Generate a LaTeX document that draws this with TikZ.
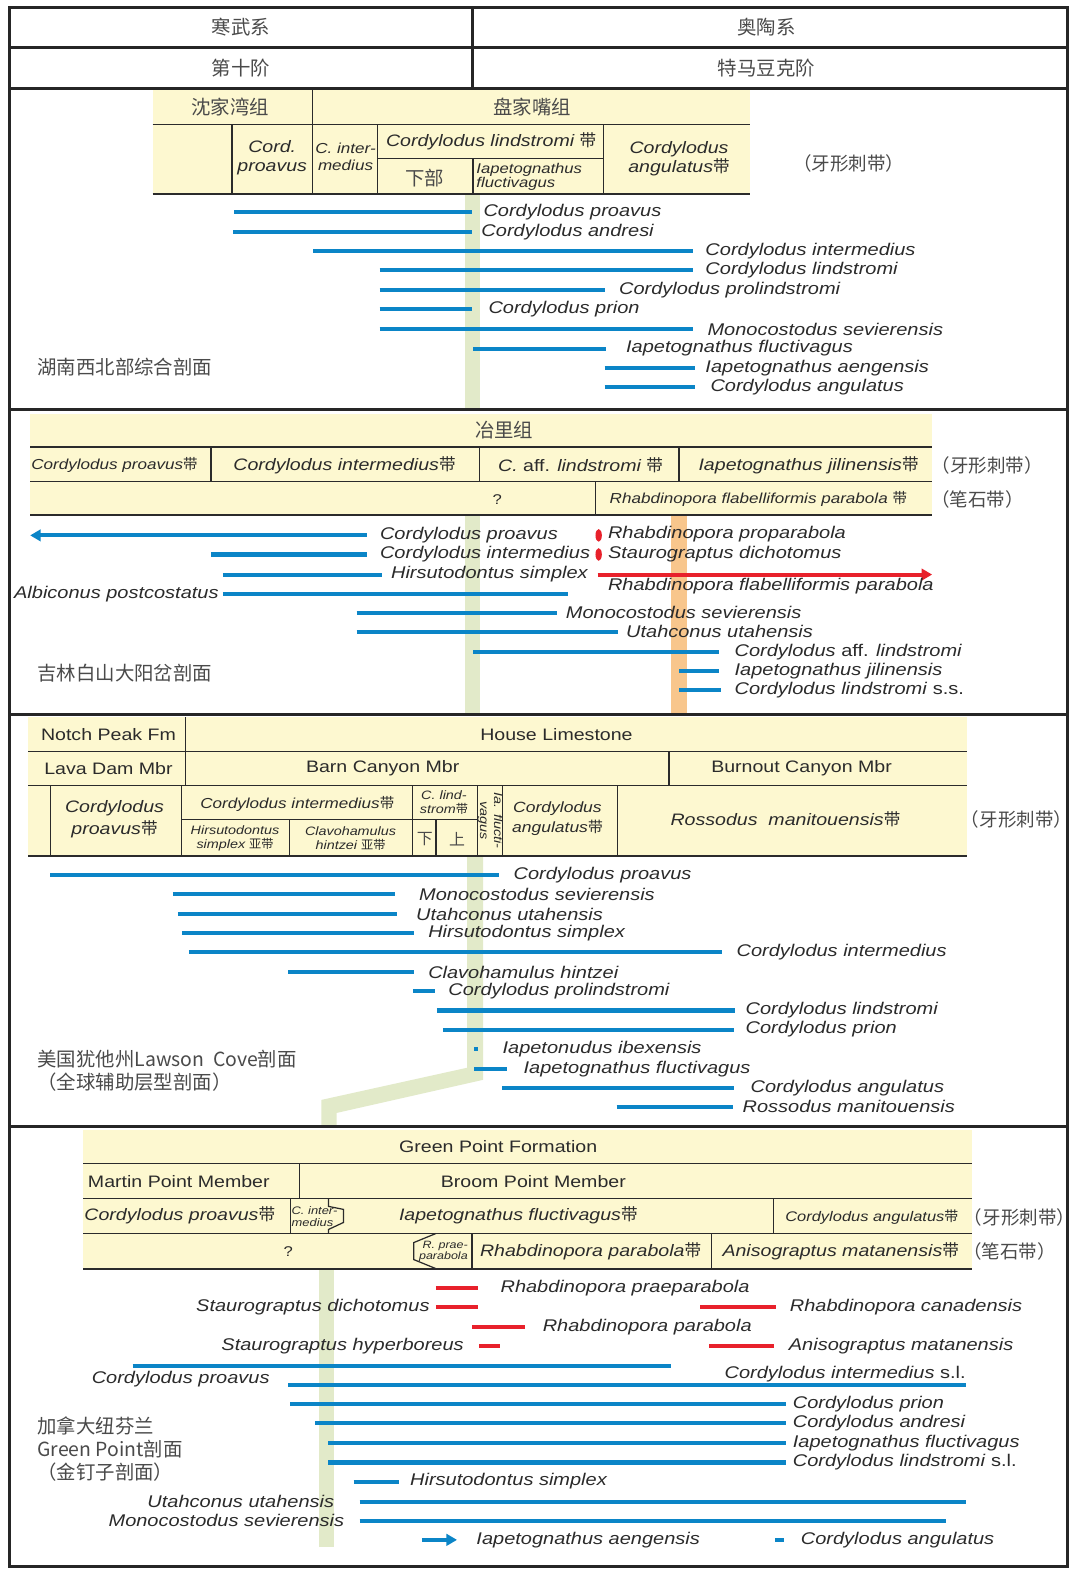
\documentclass[tikz,border=0pt]{standalone}
\usepackage{fontspec}
\setmainfont{Liberation Sans}[FakeStretch=1.18]
\newfontfamily\cjk{Noto Sans CJK SC}
\usepackage{xcolor}
\usetikzlibrary{arrows.meta}

\definecolor{paleyellow}{HTML}{FDF8D0}
\definecolor{conoblue}{HTML}{0B85C7}
\definecolor{graptred}{HTML}{E8212B}
\definecolor{palegreen}{HTML}{E2EAC9}
\definecolor{paleorange}{HTML}{F8C68C}
\definecolor{ink}{HTML}{2B2B2B}
\definecolor{zhink}{HTML}{4A4A4A}
\newcommand{\dai}{{\cjk\upshape 带}}
\newcommand{\yadai}{{\cjk\upshape 亚带}}

\begin{document}
\begin{tikzpicture}[x=0.02cm,y=-0.02cm,
  every node/.style={inner sep=0pt,text=ink},
  frame/.style={line width=1.7pt,draw=black!85},
  rule/.style={line width=0.7pt,draw=ink},
  base/.style={line width=1.3pt,draw=ink},
  conbar/.style={line width=2.3pt,draw=conoblue},
  grabar/.style={line width=2.3pt,draw=graptred},
  tip/.style={-{Triangle[length=6pt,width=6.5pt]}},
  taxon/.style={anchor=west,font=\fontsize{9.6}{11}\selectfont\itshape},
  taxonl/.style={taxon,anchor=east},
  unit/.style={font=\fontsize{9.4}{11}\selectfont},
  zone/.style={font=\fontsize{9.4}{11.3}\selectfont\itshape,align=center},
  zonesm/.style={font=\fontsize{8.2}{10}\selectfont\itshape,align=center},
  zonexs/.style={font=\fontsize{6.9}{7.9}\selectfont\itshape,align=center},
  zh/.style={text=zhink,font=\fontsize{11}{13}\selectfont\cjk},
  zhs/.style={text=zhink,font=\fontsize{10.5}{12}\selectfont\cjk},
  sect/.style={zh,anchor=west}]
  \useasboundingbox (0,0) rectangle (1075,1568);
  \fill[white] (0,0) rectangle (1075,1568);

  % chronostratigraphy head
  \node[zh] (camb) at (240,27) {寒武系};
  \node[zh] (ordo) at (763,27) {奥陶系};
  \node[zh] (stage10) at (240,68) {第十阶};
  \node[zh] (tremad) at (763,68) {特马豆克阶};

  % ---------- Hunan ----------
  \fill[palegreen] (463,193) rectangle (478,408);
  \fill[paleyellow] (152,90) rectangle (747,193);
  \draw[rule] (152,124) -- (747,124) (311,90) -- (311,193);
  \draw[rule] (231,124) -- (231,193) (376,124) -- (376,193) (601,124) -- (601,193);
  \draw[rule] (376,158) -- (601,158) (471,158) -- (471,193);
  \draw[base] (152,193) -- (747,193);
  \node[zh] (shen) at (229,107) {沈家湾组};
  \node[zh] (pan) at (530,107) {盘家嘴组};
  \node[zone] (hcp) at (271,157) {Cord.\\proavus};
  \node[zonesm] (hci) at (344,156) {C. inter-\\medius};
  \node[zone] (hcl) at (489,141) {Cordylodus lindstromi \dai};
  \node[zh] (hlow) at (423,177) {下部};
  \node[font=\fontsize{8}{8}\selectfont\itshape,align=left,anchor=west] (hif) at (474,176) {Iapetognathus\\ fluctivagus};
  \node[zone] (hca) at (676,158) {Cordylodus\\angulatus\dai};
  \node[zhs] (hzone) at (845,163) {（牙形刺带）};
  \foreach \y/\a/\b/\lx/\taxa in {
    211/233/470/481/Cordylodus proavus,
    231/232/470/479/Cordylodus andresi,
    250/312/690/702/Cordylodus intermedius,
    269/378/690/702/Cordylodus lindstromi,
    289/378/602/616/Cordylodus prolindstromi,
    308/378/470/486/Cordylodus prion,
    328/378/690/704/Monocostodus sevierensis,
    347/471/603/623/Iapetognathus fluctivagus,
    366/602/692/702/Iapetognathus aengensis,
    385/602/692/707/Cordylodus angulatus}
  {\draw[conbar] (\a,\y) -- (\b,\y);
   \node[taxon] (h\y) at (\lx,\y) {\taxa};}
  \node[sect] (hunan) at (37,365) {湖南西北部综合剖面};

  % ---------- Jilin ----------
  \fill[palegreen] (463,513) rectangle (478,711);
  \fill[paleorange] (668,513) rectangle (684,711);
  \fill[paleyellow] (30,412) rectangle (928,513);
  \draw[rule] (30,445) -- (928,445) (30,479) -- (928,479);
  \draw[rule] (210,445) -- (210,479) (477,445) -- (477,479) (676,445) -- (676,479);
  \draw[rule] (593,479) -- (593,513);
  \draw[base] (30,513) -- (928,513);
  \node[zh] (yeli) at (502,428) {冶里组};
  \node[zonesm] (jcp) at (114,463) {Cordylodus proavus\dai};
  \node[zone] (jci) at (343,463) {Cordylodus intermedius\dai};
  \node[zone] (jcl) at (578,463) {C. \textup{aff.} lindstromi \dai};
  \node[zone] (jij) at (805,463) {Iapetognathus jilinensis\dai};
  \node[zhs] (jzone) at (983,463) {（牙形刺带）};
  \node[font=\fontsize{8}{9}\selectfont] (jq) at (495,497) {?};
  \node[zonesm] (jrf) at (755,497) {Rhabdinopora flabelliformis parabola \dai};
  \node[zhs] (jgz) at (973,497) {（笔石带）};
  \draw[conbar,tip] (365,533) -- (30,533);
  \node[taxon] (j533) at (378,533) {Cordylodus proavus};
  \foreach \y/\a/\b/\lx/\taxa in {
    552/210/365/378/Cordylodus intermedius,
    572/222/380/389/Hirsutodontus simplex,
    610/355/555/563/Monocostodus sevierensis,
    629/355/615/623/Utahconus utahensis,
    649/471/716/731/{Cordylodus \textup{aff.} lindstromi},
    668/676/716/731/Iapetognathus jilinensis,
    687/676/718/731/{Cordylodus lindstromi \textup{s.s.}}}
  {\draw[conbar] (\a,\y) -- (\b,\y);
   \node[taxon] (j\y) at (\lx,\y) {\taxa};}
  \draw[conbar] (222,591) -- (565,591);
  \node[taxonl] (j591) at (218,591) {Albiconus postcostatus};
  \fill[graptred] (596,533) ellipse [x radius=1.8pt, y radius=3.6pt];
  \fill[graptred] (596,552) ellipse [x radius=1.8pt, y radius=3.6pt];
  \node[taxon] (rpro) at (605,532) {Rhabdinopora proparabola};
  \node[taxon] (sdi) at (605,552) {Staurograptus dichotomus};
  \draw[grabar,tip] (595,572) -- (928,572);
  \node[taxon] (rfp) at (605,584) {Rhabdinopora flabelliformis parabola};
  \node[sect] (jilin) at (37,670) {吉林白山大阳岔剖面};

  % ---------- Lawson Cove ----------
  \fill[palegreen] (465,852) -- (481,852) -- (481,1075) -- (335,1108) -- (335,1121)
    -- (320,1121) -- (320,1095) -- (465,1063) -- cycle;
  \fill[paleyellow] (28,714) rectangle (963,852);
  \draw[rule] (28,748) -- (963,748) (28,782) -- (963,782);
  \draw[rule] (185,714) -- (185,782) (666,748) -- (666,782);
  \foreach \vx in {50,181,411,475,500,615}
    \draw[rule] (\vx,782) -- (\vx,852);
  \draw[rule] (181,816) -- (475,816) (288,816) -- (288,852) (434,816) -- (434,852);
  \draw[base] (28,852) -- (963,852);
  \node[unit] (notch) at (108,731) {Notch Peak Fm};
  \node[unit] (house) at (554,731) {House Limestone};
  \node[unit] (lava) at (108,765) {Lava Dam Mbr};
  \node[unit] (barn) at (381,765) {Barn Canyon Mbr};
  \node[unit] (burn) at (798,765) {Burnout Canyon Mbr};
  \node[zone,font=\fontsize{9.4}{12.4}\selectfont\itshape] (ucp) at (114,816) {Cordylodus\\proavus\dai};
  \node[zonesm] (uci) at (296,800) {Cordylodus intermedius\dai};
  \node[zonexs] (uhs) at (234,835) {Hirsutodontus\\simplex \yadai};
  \node[zonexs] (uch) at (349,835) {Clavohamulus\\hintzei \yadai};
  \node[zonexs] (ucl) at (442,799) {C. lind-\\strom\dai};
  \node[font=\fontsize{9}{10}\selectfont\cjk,text=zhink] (ulow) at (423,835) {下};
  \node[font=\fontsize{9}{10}\selectfont\cjk,text=zhink] (uupp) at (455,835) {上};
  \node[zonexs,rotate=-90] (uif) at (488,817) {Ia. flucti-\\vagus};
  \node[zonesm,font=\fontsize{8.4}{11}\selectfont\itshape] (uca) at (555,815) {Cordylodus\\angulatus\dai};
  \node[zone] (urm) at (782,816) {Rossodus~~manitouensis\dai};
  \node[zhs] (uzone) at (1012,816) {（牙形刺带）};
  \foreach \y/\a/\b/\lx/\taxa in {
    871/50/497/511/Cordylodus proavus,
    890/172/393/417/Monocostodus sevierensis,
    910/177/395/414/Utahconus utahensis,
    929/181/412/426/Hirsutodontus simplex,
    948/188/719/733/Cordylodus intermedius,
    968/287/412/426/Clavohamulus hintzei,
    987/411/433/446/Cordylodus prolindstromi,
    1006/435/732/742/Cordylodus lindstromi,
    1025/441/731/742/Cordylodus prion,
    1044/472/476/500/Iapetonudus ibexensis,
    1064/472/505/521/Iapetognathus fluctivagus,
    1083/500/731/747/Cordylodus angulatus,
    1102/614/730/739/Rossodus manitouensis}
  {\draw[conbar] (\a,\y) -- (\b,\y);
   \node[taxon] (u\y) at (\lx,\y) {\taxa};}
  \node[sect] (utah) at (37,1054) {美国犹他州Lawson~~Cove剖面};
  \node[sect] (gssp) at (37,1077) {（全球辅助层型剖面）};

  % ---------- Green Point ----------
  \fill[palegreen] (318,1263) rectangle (333,1540);
  \fill[paleyellow] (83,1125) rectangle (968,1263);
  \draw[rule] (83,1158) -- (968,1158) (83,1193) -- (968,1193) (83,1228) -- (968,1228);
  \draw[rule] (298,1158) -- (298,1193) (289,1193) -- (289,1228) (770,1193) -- (770,1228);
  \draw[rule] (327,1193) -- (327,1201) -- (342,1204) -- (342,1217) -- (327,1224) -- (327,1228);
  \draw[rule] (434,1228) -- (412,1237) -- (412,1254) -- (434,1263);
  \draw[rule] (470,1228) -- (470,1263) (708,1228) -- (708,1263);
  \draw[base] (83,1263) -- (968,1263);
  \node[unit] (gpf) at (496,1141) {Green Point Formation};
  \node[unit] (mpm) at (178,1176) {Martin Point Member};
  \node[unit] (bpm) at (531,1176) {Broom Point Member};
  \node[zone] (gcp) at (179,1210) {Cordylodus proavus\dai};
  \node[font=\fontsize{6.2}{6.8}\selectfont\itshape,align=left,anchor=west] (gci) at (290,1211) {C. inter-\\medius};
  \node[zone] (gif) at (516,1210) {Iapetognathus fluctivagus\dai};
  \node[zonesm,font=\fontsize{7.9}{10}\selectfont\itshape] (gca) at (868,1212) {Cordylodus angulatus\dai};
  \node[zhs] (gzone) at (1015,1212) {（牙形刺带）};
  \node[font=\fontsize{8}{9}\selectfont] (gq) at (287,1246) {?};
  \node[font=\fontsize{6}{6.5}\selectfont\itshape,align=right,anchor=east] (grp) at (466,1246) {R. prae-\\parabola};
  \node[zone] (grpa) at (588,1246) {Rhabdinopora parabola\dai};
  \node[zone] (gam) at (837,1246) {Anisograptus matanensis\dai};
  \node[zhs] (ggz) at (1005,1246) {（笔石带）};
  % graptolites
  \draw[grabar] (434,1282) -- (476,1282);
  \node[taxon] (g1282) at (498,1282) {Rhabdinopora praeparabola};
  \draw[grabar] (434,1301) -- (476,1301);
  \node[taxonl] (g1301) at (428,1301) {Staurograptus dichotomus};
  \draw[grabar] (697,1301) -- (773,1301);
  \node[taxon] (g1301r) at (786,1301) {Rhabdinopora canadensis};
  \draw[grabar] (470,1321) -- (523,1321);
  \node[taxon] (g1321) at (540,1321) {Rhabdinopora parabola};
  \draw[grabar] (477,1340) -- (498,1340);
  \node[taxonl] (g1340) at (462,1340) {Staurograptus hyperboreus};
  \draw[grabar] (706,1340) -- (771,1340);
  \node[taxon] (g1340r) at (785,1340) {Anisograptus matanensis};
  % conodonts
  \draw[conbar] (132,1360) -- (668,1360);
  \node[taxon] (g1360) at (91,1373) {Cordylodus proavus};
  \draw[conbar] (287,1379) -- (962,1379);
  \node[taxon] (g1379) at (721,1368) {Cordylodus intermedius \textup{s.l.}};
  \foreach \y/\a/\b/\lx/\taxa in {
    1398/289/782/789/Cordylodus prion,
    1417/314/782/789/Cordylodus andresi,
    1437/327/782/789/Iapetognathus fluctivagus,
    1456/327/782/789/{Cordylodus lindstromi \textup{s.l.}},
    1475/352/397/408/Hirsutodontus simplex}
  {\draw[conbar] (\a,\y) -- (\b,\y);
   \node[taxon] (g\y) at (\lx,\y) {\taxa};}
  \draw[conbar] (358,1495) -- (962,1495);
  \node[taxonl] (g1495) at (333,1495) {Utahconus utahensis};
  \draw[conbar] (358,1514) -- (942,1514);
  \node[taxonl] (g1514) at (343,1514) {Monocostodus sevierensis};
  \draw[conbar,tip] (420,1533) -- (455,1533);
  \node[taxon] (g1533) at (474,1533) {Iapetognathus aengensis};
  \draw[conbar] (772,1533) -- (781,1533);
  \node[taxon] (g1533r) at (797,1533) {Cordylodus angulatus};
  \node[sect] (nfld) at (37,1420) {加拿大纽芬兰};
  \node[sect] (gpt) at (37,1443) {Green Point剖面};
  \node[sect] (gold) at (37,1466) {（金钉子剖面）};

  % frame
  \draw[frame] (9,7) rectangle (1063,1560);
  \draw[frame] (9,47) -- (1063,47) (9,88) -- (1063,88) (470,7) -- (470,88);
  \draw[frame] (9,408) -- (1063,408) (9,711) -- (1063,711) (9,1121) -- (1063,1121);
\end{tikzpicture}
\end{document}
